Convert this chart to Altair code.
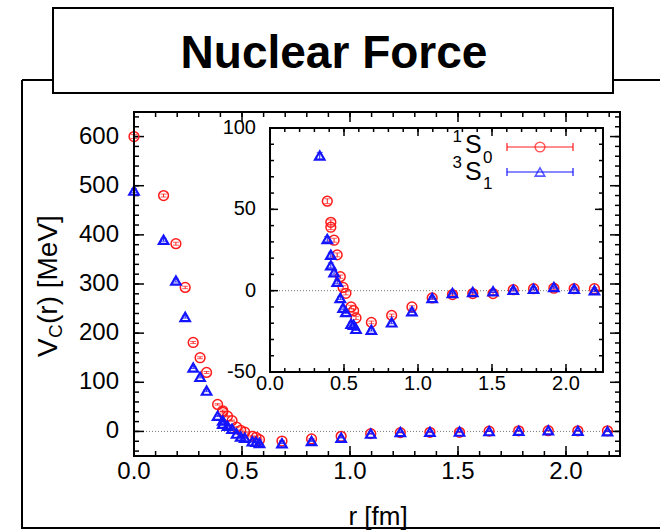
import altair as alt
import pandas as pd

# Central potential V_C(r) from lattice QCD, spin-singlet (1S0) and spin-triplet (3S1)
r_lat = [0.000, 0.137, 0.194, 0.237, 0.274, 0.306, 0.336, 0.387, 0.411, 0.411,
         0.433, 0.454, 0.475, 0.494, 0.513, 0.548, 0.565, 0.581, 0.685, 0.822,
         0.959, 1.096, 1.233, 1.370, 1.507, 1.644, 1.781, 1.918, 2.055, 2.192]
v_1s0 = [600, 480, 382, 293, 181, 150, 120, 55, 42, 39,
         31, 22, 8.6, 2.0, -1.6, -10, -12.3, -16.8, -19.5, -15.2,
         -10, -4.5, -2.4, -1.8, -1.8, 0.6, 1.2, 1.5, 1.2, 1.2]
err_1s0 = [4, 3, 3, 2.5, 2, 2, 2, 1.5, 1.5, 1.5,
           1.2, 1.2, 1, 1, 1, 1, 1, 1, 0.8, 0.8,
           0.7, 0.7, 0.7, 0.7, 0.7, 0.7, 0.7, 0.7, 0.7, 0.7]
v_3s1 = [490, 390, 307, 233, 130, 111, 83, 31.8, 22.1, 15.6,
         11.3, 5.5, -4.5, -10.5, -13.1, -20.3, -21, -23.5, -24, -19.5,
         -12.7, -4.5, -1.4, -0.8, -0.4, 0.6, 1.2, 2.2, 1.2, 0.2]
err_3s1 = [4, 3, 3, 2.5, 2, 2, 2, 1.5, 1.5, 1.5,
           1.2, 1.2, 1, 1, 1, 1, 1, 1, 0.8, 0.8,
           0.7, 0.7, 0.7, 0.7, 0.7, 0.7, 0.7, 0.7, 0.7, 0.7]

# Axis ticks
main_x_major = [0.0, 0.5, 1.0, 1.5, 2.0]
main_y_major = [0, 100, 200, 300, 400, 500, 600]
inset_x_major = [0.0, 0.5, 1.0, 1.5, 2.0]
inset_y_major = [-50, 0, 50, 100]
x_minor = [i / 10 for i in range(0, 23)]
main_y_minor = list(range(-40, 650, 20))
inset_y_minor = list(range(-50, 101, 10))

RED = "#ff1a1a"
BLUE = "#1414ff"
FONT = "Liberation Sans"

# Pixel frames of the two panels
MX0, MX1, MY0, MY1 = 134, 620, 456, 112
IX0, IX1, IY0, IY1 = 270, 603, 372, 128

mx = alt.Scale(domain=[0, 2.25], range=[MX0, MX1], nice=False, zero=False)
my = alt.Scale(domain=[-50, 650], range=[MY0, MY1], nice=False, zero=False)
ix = alt.Scale(domain=[0, 2.25], range=[IX0, IX1], nice=False, zero=False)
iy = alt.Scale(domain=[-50, 100], range=[IY0, IY1], nice=False, zero=False)

CIRCLE_SIZE, CIRCLE_SW = 95, 1.5
TRI_SIZE, TRI_SW = 90, 2.2


def series(vals, errs):
    return pd.DataFrame({
        "r": r_lat,
        "v": vals,
        "lo": [v - e for v, e in zip(vals, errs)],
        "hi": [v + e for v, e in zip(vals, errs)],
    })


s0 = series(v_1s0, err_1s0)
s1 = series(v_3s1, err_3s1)


def series_layers(df, color, shape, size, sw, xs, ys, cap):
    base = alt.Chart(df)
    x = alt.X("r:Q", scale=xs, axis=None)
    bar = base.mark_rule(color=color, strokeWidth=1).encode(
        x=x, y=alt.Y("lo:Q", scale=ys, axis=None), y2="hi:Q")
    cap_lo = base.mark_tick(color=color, orient="horizontal", size=cap, thickness=1).encode(
        x=x, y=alt.Y("lo:Q", scale=ys, axis=None))
    cap_hi = base.mark_tick(color=color, orient="horizontal", size=cap, thickness=1).encode(
        x=x, y=alt.Y("hi:Q", scale=ys, axis=None))
    pts = base.mark_point(shape=shape, filled=False, color=color, size=size,
                          strokeWidth=sw, opacity=1).encode(
        x=x, y=alt.Y("v:Q", scale=ys, axis=None))
    return [bar, cap_lo, cap_hi, pts]


def x_ticks(vals, length, xs, ybot, ytop):
    base = alt.Chart(pd.DataFrame({"t": vals}))
    x = alt.X("t:Q", scale=xs, axis=None)
    return [
        base.mark_rule(color="black", strokeWidth=1.5).encode(
            x=x, y=alt.value(ybot), y2=alt.value(ybot - length)),
        base.mark_rule(color="black", strokeWidth=1.5).encode(
            x=x, y=alt.value(ytop), y2=alt.value(ytop + length)),
    ]


def y_ticks(vals, length, ys, xl, xr):
    base = alt.Chart(pd.DataFrame({"t": vals}))
    y = alt.Y("t:Q", scale=ys, axis=None)
    return [
        base.mark_rule(color="black", strokeWidth=1.5).encode(
            y=y, x=alt.value(xl), x2=alt.value(xl + length)),
        base.mark_rule(color="black", strokeWidth=1.5).encode(
            y=y, x=alt.value(xr), x2=alt.value(xr - length)),
    ]


def x_labels(vals, xs, ypix, size):
    df = pd.DataFrame({"t": vals, "s": [f"{v:.1f}" for v in vals]})
    return alt.Chart(df).mark_text(font=FONT, fontSize=size, color="black",
                                   baseline="middle", align="center").encode(
        x=alt.X("t:Q", scale=xs, axis=None), y=alt.value(ypix), text="s:N")


def y_labels(vals, ys, xpix, size):
    df = pd.DataFrame({"t": vals, "s": [str(v) for v in vals]})
    return alt.Chart(df).mark_text(font=FONT, fontSize=size, color="black",
                                   baseline="middle", align="right").encode(
        y=alt.Y("t:Q", scale=ys, axis=None), x=alt.value(xpix), text="s:N")


def zero_line(ys, x0, x1):
    return alt.Chart(pd.DataFrame({"z": [0]})).mark_rule(
        color="#777777", strokeWidth=1, strokeDash=[1, 2]).encode(
        y=alt.Y("z:Q", scale=ys, axis=None), x=alt.value(x0), x2=alt.value(x1))


one = pd.DataFrame({"k": [0]})


def box(x0, x1, y0, y1, fill=None, sw=2):
    kw = dict(stroke="black", strokeWidth=sw)
    if fill:
        kw["fill"] = fill
    else:
        kw["fillOpacity"] = 0
    return alt.Chart(one).mark_rect(**kw).encode(
        x=alt.value(x0), x2=alt.value(x1), y=alt.value(y0), y2=alt.value(y1))


def hline(x0, x1, y, color="black", sw=2):
    return alt.Chart(one).mark_rule(color=color, strokeWidth=sw).encode(
        x=alt.value(x0), x2=alt.value(x1), y=alt.value(y))


def vline(x, y0, y1, color="black", sw=2):
    return alt.Chart(one).mark_rule(color=color, strokeWidth=sw).encode(
        x=alt.value(x), y=alt.value(y0), y2=alt.value(y1))


def text(s, x, y, size, align="left", baseline="alphabetic", angle=0, weight="normal"):
    return alt.Chart(one).mark_text(
        text=s, font=FONT, fontSize=size, align=align, baseline=baseline,
        angle=angle, fontWeight=weight, color="black").encode(
        x=alt.value(x), y=alt.value(y))


# Main panel
main_layers = (
    [zero_line(my, MX0, MX1)]
    + x_ticks(x_minor, 5, mx, MY0, MY1) + x_ticks(main_x_major, 10, mx, MY0, MY1)
    + y_ticks(main_y_minor, 5, my, MX0, MX1) + y_ticks(main_y_major, 10, my, MX0, MX1)
    + [x_labels(main_x_major, mx, 472, 24), y_labels(main_y_major, my, 119, 24)]
    + series_layers(s0, RED, "circle", CIRCLE_SIZE, CIRCLE_SW, mx, my, 6)
    + series_layers(s1, BLUE, "triangle-up", TRI_SIZE, TRI_SW, mx, my, 6)
)
main = alt.layer(*main_layers)

# Inset panel: close-up of the attractive pocket
s0_in = s0[s0["v"] <= 100]
s1_in = s1[s1["v"] <= 100]
inset_layers = (
    [zero_line(iy, IX0, IX1)]
    + x_ticks(x_minor, 4, ix, IY0, IY1) + x_ticks(inset_x_major, 8, ix, IY0, IY1)
    + y_ticks(inset_y_minor, 4, iy, IX0, IX1) + y_ticks(inset_y_major, 8, iy, IX0, IX1)
    + [x_labels(inset_x_major, ix, 384, 20), y_labels(inset_y_major, iy, 256, 20)]
    + series_layers(s0_in, RED, "circle", CIRCLE_SIZE, CIRCLE_SW, ix, iy, 6)
    + series_layers(s1_in, BLUE, "triangle-up", TRI_SIZE, TRI_SW, ix, iy, 6)
)
inset = alt.layer(*inset_layers)

# Legend inside the inset
legend = [
    hline(507, 573, 147, RED, 1.2), vline(507, 143, 151, RED, 1.2), vline(573, 143, 151, RED, 1.2),
    alt.Chart(one).mark_point(shape="circle", filled=False, color=RED, size=CIRCLE_SIZE,
                              strokeWidth=CIRCLE_SW).encode(x=alt.value(540), y=alt.value(147)),
    hline(507, 573, 172, BLUE, 1.2), vline(507, 168, 176, BLUE, 1.2), vline(573, 168, 176, BLUE, 1.2),
    alt.Chart(one).mark_point(shape="triangle-up", filled=False, color=BLUE, size=TRI_SIZE,
                              strokeWidth=1.6).encode(x=alt.value(540), y=alt.value(172)),
    text("1", 462, 142, 17, align="right"),
    text("S", 465, 153, 25),
    text("0", 483, 163, 17),
    text("3", 462, 168, 17, align="right"),
    text("S", 465, 180, 25),
    text("1", 483, 189, 17),
]

# Frames, titles
decor = [
    vline(22, 80, 529), hline(22, 660, 80), hline(22, 660, 528),
    box(MX0, MX1, MY1, MY0),
    box(IX0, IX1, IY1, IY0),
    box(53, 613, 8, 93, fill="white"),
    text("Nuclear Force", 334, 68, 46, align="center", weight="bold"),
    text("r [fm]", 378, 525, 26, align="center"),
    text("V", 57, 357, 28, angle=270),
    text("C", 62, 338, 19, angle=270),
    text("(r) [MeV]", 57, 324, 28, angle=270),
]

chart = alt.layer(main, inset, *legend, *decor).resolve_scale(
    x="independent", y="independent"
).properties(
    width=660, height=532, autosize=alt.AutoSizeParams(type="none"), padding=0
).configure_view(stroke=None)

chart.save("out.html", embed_options={"renderer": "svg", "actions": False})
